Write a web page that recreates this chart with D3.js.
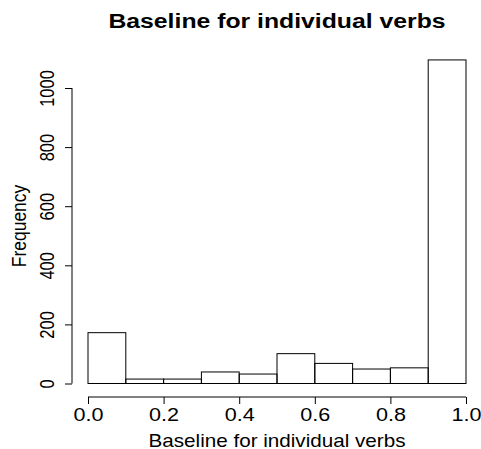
<!DOCTYPE html>
<html><head><meta charset="utf-8">
<script src="https://cdn.jsdelivr.net/npm/d3@7"></script>
<style>body{margin:0;background:#fff}text{font-family:"Liberation Sans",Arial,sans-serif}</style>
</head><body><svg id="c" width="481" height="449"></svg>
<script>
const breaks = [0,0.1,0.2,0.3,0.4,0.5,0.6,0.7,0.8,0.9,1.0];
const counts = [172,15,15,39,32,101,68,49,53,1095];
const xTicks = [0,0.2,0.4,0.6,0.8,1.0];
const yTicks = [0,200,400,600,800,1000];

const SX = 1.18, FS = 17.5;
const svg = d3.select("#c");
const x = d3.scaleLinear().domain([0,1]).range([88,466]);
const y = d3.scaleLinear().domain([0,1000]).range([383.5,88]);
const bins = counts.map((c,i)=>({x0:breaks[i],x1:breaks[i+1],c}));

svg.append("g").selectAll("rect").data(bins).enter().append("rect")
  .attr("x",d=>x(d.x0)).attr("y",d=>y(d.c))
  .attr("width",d=>x(d.x1)-x(d.x0)).attr("height",d=>y(0)-y(d.c))
  .attr("fill","none").attr("stroke","#000").attr("stroke-width",1);

const xa = svg.append("g").attr("transform","translate(0,397)")
  .call(d3.axisBottom(x).tickValues(xTicks).tickFormat(d3.format(".1f")).tickSizeOuter(0).tickSize(7));
xa.select(".domain").attr("d",`M${x(0)},0H${x(1)}`);
xa.selectAll(".tick text").attr("font-size",18).attr("font-family","Liberation Sans, Arial")
  .attr("y",null).attr("dy",null).attr("transform",`translate(0,23.5) scale(1.2,1)`);

const ya = svg.append("g").attr("transform","translate(72,0)")
  .call(d3.axisLeft(y).tickValues(yTicks).tickFormat(d3.format("d")).tickSizeOuter(0).tickSize(7));
ya.select(".domain").attr("d",`M0,${y(0)}V${y(1000)}`);
ya.selectAll(".tick text").attr("font-size",16.5).attr("font-family","Liberation Sans, Arial")
  .attr("x",null).attr("dy",null)
  .attr("transform",`translate(-18.5,0) scale(1.25,1) rotate(-90)`).attr("text-anchor","middle");

svg.append("text").attr("transform",`translate(277,28) scale(${SX},1)`).attr("text-anchor","middle")
  .attr("font-size",21).attr("font-weight","bold").text("Baseline for individual verbs");
svg.append("text").attr("transform",`translate(277,446.5) scale(${SX},1)`).attr("text-anchor","middle")
  .attr("font-size",FS).text("Baseline for individual verbs");
svg.append("text").attr("transform",`translate(26,226) scale(${SX},1) rotate(-90)`).attr("text-anchor","middle")
  .attr("font-size",FS).text("Frequency");
</script></body></html>
